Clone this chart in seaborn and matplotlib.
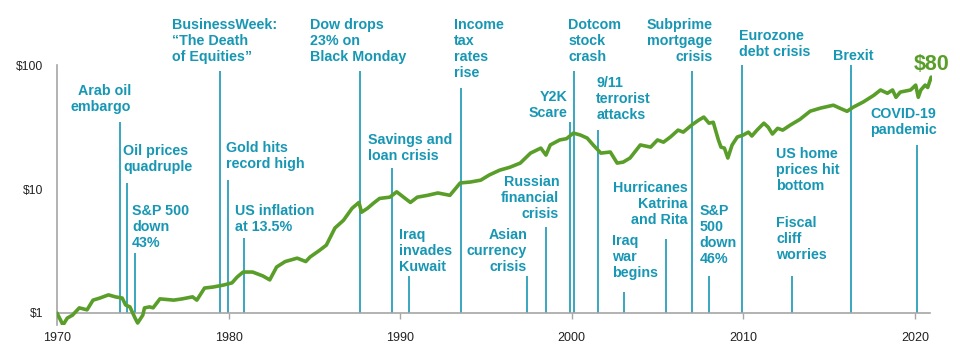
import matplotlib
matplotlib.use("Agg")
import matplotlib.pyplot as plt
import pandas as pd
import seaborn as sns

# growth of $1
years = [
    1970.0, 1970.35, 1970.6, 1970.9, 1971.3, 1971.75, 1972.1, 1972.5, 1973.0, 1973.4,
    1973.8, 1974.0, 1974.25, 1974.55, 1974.7, 1975.0, 1975.1, 1975.4, 1975.6, 1976.0,
    1976.8, 1977.3, 1977.9, 1978.15, 1978.6, 1979.1, 1979.7, 1980.2, 1980.5, 1980.85,
    1981.4, 1982.0, 1982.4, 1982.8, 1983.3, 1984.0, 1984.5, 1984.75, 1985.3, 1985.7,
    1986.2, 1986.7, 1987.2, 1987.6, 1987.75, 1988.1, 1988.45, 1988.8, 1989.4, 1989.8,
    1990.2, 1990.6, 1991.0, 1991.6, 1992.2, 1992.9, 1993.5, 1994.1, 1994.7, 1995.2,
    1995.8, 1996.4, 1997.0, 1997.6, 1998.2, 1998.5, 1998.75, 1999.3, 1999.7, 2000.1,
    2000.5, 2000.9, 2001.25, 2001.7, 2002.25, 2002.65, 2003.0, 2003.4, 2004.0, 2004.6,
    2005.0, 2005.35, 2005.75, 2006.2, 2006.5, 2007.0, 2007.4, 2007.7, 2008.0, 2008.25,
    2008.55, 2008.7, 2008.9, 2009.1, 2009.35, 2009.65, 2010.0, 2010.3, 2010.5, 2010.8,
    2011.2, 2011.45, 2011.7, 2012.0, 2012.3, 2012.75, 2013.3, 2013.9, 2014.5, 2015.25,
    2015.65, 2016.05, 2016.4, 2017.0, 2017.6, 2018.0, 2018.4, 2018.7, 2018.9, 2019.15,
    2019.75, 2020.05, 2020.2, 2020.35, 2020.6, 2020.75, 2020.95,
]
values = [
    1.00, 0.80, 0.91, 0.96, 1.10, 1.06, 1.27, 1.32, 1.40, 1.35,
    1.32, 1.16, 1.12, 0.91, 0.83, 0.96, 1.10, 1.12, 1.10, 1.30,
    1.27, 1.30, 1.35, 1.27, 1.59, 1.62, 1.68, 1.75, 1.95, 2.14,
    2.14, 1.99, 1.85, 2.35, 2.60, 2.77, 2.60, 2.83, 3.20, 3.53,
    4.85, 5.60, 7.00, 7.80, 6.50, 7.00, 7.70, 8.40, 8.60, 9.50,
    8.60, 7.80, 8.60, 8.90, 9.30, 8.90, 11.2, 11.4, 11.8, 13.0,
    14.2, 15.0, 16.2, 19.5, 21.4, 18.8, 22.7, 24.9, 25.5, 28.3,
    27.3, 25.8, 22.7, 19.5, 19.9, 16.2, 16.5, 17.8, 22.7, 21.8,
    24.9, 23.9, 26.3, 29.9, 28.8, 32.9, 36.0, 38.1, 34.0, 34.6,
    24.9, 21.8, 21.4, 17.8, 22.7, 26.3, 27.3, 28.8, 26.8, 29.9,
    34.0, 31.6, 27.8, 30.9, 29.9, 32.9, 36.5, 42.5, 45.0, 47.5,
    44.8, 42.4, 45.7, 50.5, 57.0, 63.0, 59.3, 63.0, 55.0, 60.6,
    63.0, 69.0, 55.0, 63.0, 69.0, 66.0, 80.0,
]

# events: label, year of line, top of line ($), text anchor, alignment
ev_labels = [
    "Arab oil\nembargo", "Oil prices\nquadruple", "S&P 500\ndown\n43%",
    "BusinessWeek:\n\u201cThe Death\nof Equities\u201d", "Gold hits\nrecord high",
    "US inflation\nat 13.5%", "Dow drops\n23% on\nBlack Monday", "Savings and\nloan crisis",
    "Iraq\ninvades\nKuwait", "Income\ntax\nrates\nrise", "Asian\ncurrency\ncrisis",
    "Russian\nfinancial\ncrisis", "Y2K\nScare", "Dotcom\nstock\ncrash",
    "9/11\nterrorist\nattacks", "Iraq\nwar\nbegins", "Hurricanes\nKatrina\nand Rita",
    "Subprime\nmortgage\ncrisis", "S&P\n500\ndown\n46%", "Eurozone\ndebt crisis",
    "US home\nprices hit\nbottom", "Fiscal\ncliff\nworries", "Brexit", "COVID-19\npandemic",
]
ev_years = [
    1973.69, 1974.08, 1974.55, 1979.50, 1979.97, 1980.90, 1987.67, 1989.53,
    1990.52, 1993.56, 1997.41, 1998.51, 1999.91, 2000.15, 2001.55, 2003.06,
    2005.51, 2007.03, 2008.02, 2009.94, None, 2012.86, 2016.30, 2020.15,
]
ev_tops = [
    34.8, 11.2, 3.05, 89.6, 11.8, 4.03, 89.6, 14.8,
    1.99, 65.0, 1.99, 4.94, 34.8, 89.6, 29.9, 1.48,
    3.95, 89.6, 1.99, 100, None, 1.99, 100, 22.7,
]
# text anchor in pixels of the 960x362 picture (x, centre of first line)
ev_text_px = [
    (131, 92), (123, 152), (132, 212), (172, 26), (226, 149), (235, 212),
    (310, 26), (368, 141), (399, 236), (454, 26), (527, 236), (559, 183),
    (567, 98), (568, 26), (596, 84), (612, 242), (687, 189), (712, 26),
    (699, 212), (739, 37), (776, 155), (776, 224), (853, 57), (903, 115),
]
ev_ha = [
    "right", "left", "left", "left", "left", "left", "left", "left",
    "left", "left", "right", "right", "right", "left", "left", "left",
    "right", "right", "left", "left", "left", "left", "center", "center",
]

TEAL = "#1797b4"
GREEN = "#5a9e2a"


def px_to_data(x, y):
    return 1970 + (x - 57) / 17.15, 10 ** ((313 - y) / 124)


sns.set_style("white")
plt.rcParams["font.family"] = ["Liberation Sans", "DejaVu Sans"]

fig = plt.figure(figsize=(9.6, 3.62), dpi=100)
ax = fig.add_axes([57 / 960, 37 / 362, 875 / 960, 319 / 362])

df = pd.DataFrame({"year": years, "value": values})

for lab, yr, top, (tx, ty), ha in zip(ev_labels, ev_years, ev_tops, ev_text_px, ev_ha):
    if yr is not None:
        ax.vlines(yr, 1, top, color=TEAL, lw=1.2, zorder=2)
    dx, dy = px_to_data(tx, ty - 8.5)
    ax.text(dx, dy, lab, ha=ha, va="top", multialignment=ha, color=TEAL,
            fontsize=10.3, fontweight="bold", linespacing=1.2, zorder=4)

sns.lineplot(data=df, x="year", y="value", color=GREEN, lw=2.6, ax=ax, zorder=3)

ax.set_yscale("log")
ax.set_xlim(1970, 2021)
ax.set_ylim(0.8, 300)

ax.text(2020.95, 80 * 1.04, "$80", ha="center", va="bottom", color=GREEN,
        fontsize=15.5, fontweight="bold")

for s in ["top", "right"]:
    ax.spines[s].set_visible(False)
ax.spines["left"].set_bounds(0.8, 100)
ax.spines["left"].set_color("#a6a6a6")
ax.spines["left"].set_linewidth(1.2)
ax.spines["bottom"].set_position(("data", 1))
ax.spines["bottom"].set_bounds(1970, 2020.9)
ax.spines["bottom"].set_color("#a6a6a6")
ax.spines["bottom"].set_linewidth(1.2)

ax.set_xticks([1970, 1980, 1990, 2000, 2010, 2020])
ax.set_xticklabels(["1970", "1980", "1990", "2000", "2010", "2020"])
ax.set_yticks([1, 10, 100])
ax.set_yticklabels(["$1", "$10", "$100"])
ax.yaxis.set_minor_locator(matplotlib.ticker.NullLocator())
ax.tick_params(axis="x", direction="out", length=4, width=1, color="#a6a6a6",
               pad=10, labelsize=9, labelcolor="#222222", bottom=True)
ax.tick_params(axis="y", length=0, pad=10, labelsize=8.7, labelcolor="#222222")
ax.set_xlabel("")
ax.set_ylabel("")
ax.grid(False)

fig.savefig("out.png", dpi=100)
